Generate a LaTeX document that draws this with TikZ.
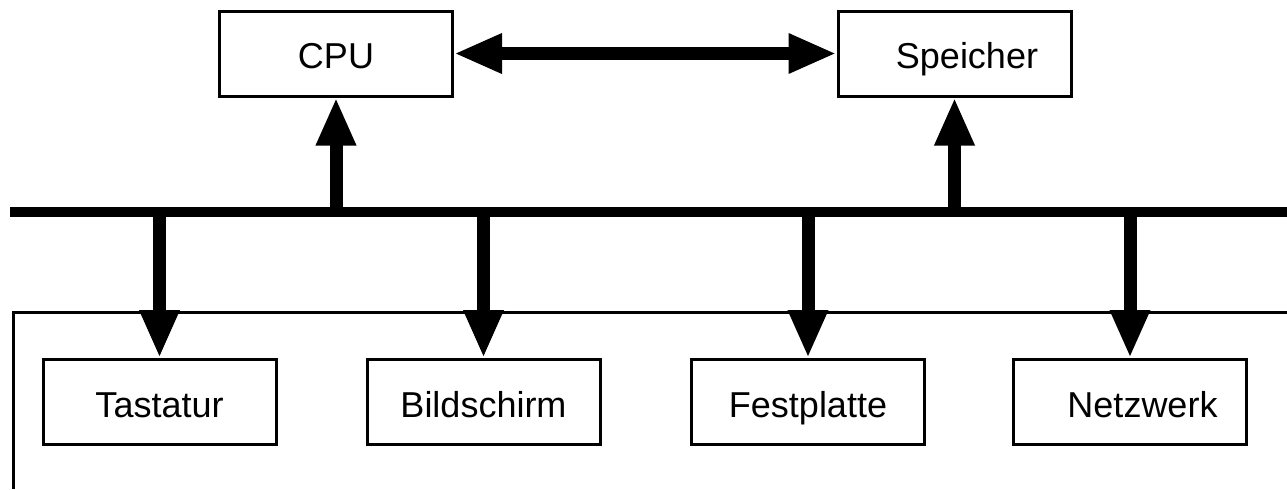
\documentclass[tikz,border=0pt]{standalone}
\usepackage{fontspec}
\setmainfont{Liberation Sans}
\usetikzlibrary{arrows.meta}

\begin{document}
\begin{tikzpicture}[x=0.5pt, y=-0.5pt,
  >={Triangle[length=24pt,width=18.5pt]},
  box/.style = {draw, line width=1.5pt, inner sep=0pt,
    minimum width=116.5pt, minimum height=42.5pt,
    text height=16pt, text depth=1pt,
    font=\fontsize{18}{20}\selectfont},
  link/.style = {line width=6.5pt, ->},
  bus/.style = {line width=5pt}]
  \useasboundingbox (0,0) rectangle (1287,489);

  % Rechner oben
  \node[box] (cpu) at (336,53.5) {CPU};
  \node[box] (spk) at (954.5,53.5) {\hspace*{12.5pt}Speicher};

  % Bus
  \coordinate (busL) at (10,212);
  \coordinate (busR) at (1287,212);
  \draw[bus] (busL) -- (busR);

  % Geraete
  \coordinate (frameTR) at (1287,312);
  \coordinate (frameBL) at (13,489);
  \draw[line width=1.5pt] (frameTR) -| (frameBL);
  \node[box] (tas) at (159.5,402) {Tastatur};
  \node[box] (bil) at (483.5,402) {Bildschirm};
  \node[box] (fes) at (808,402) {Festplatte};
  \node[box] (net) at (1130,402) {\hspace*{12.5pt}Netzwerk};

  % Verbindungen
  \draw[link, <->] (cpu) -- (spk);
  \draw[link] (cpu |- busL) -- (cpu);
  \draw[link] (spk |- busL) -- (spk);
  \foreach \dev in {tas, bil, fes, net}
    \draw[link] (\dev |- busL) -- (\dev);
\end{tikzpicture}
\end{document}
